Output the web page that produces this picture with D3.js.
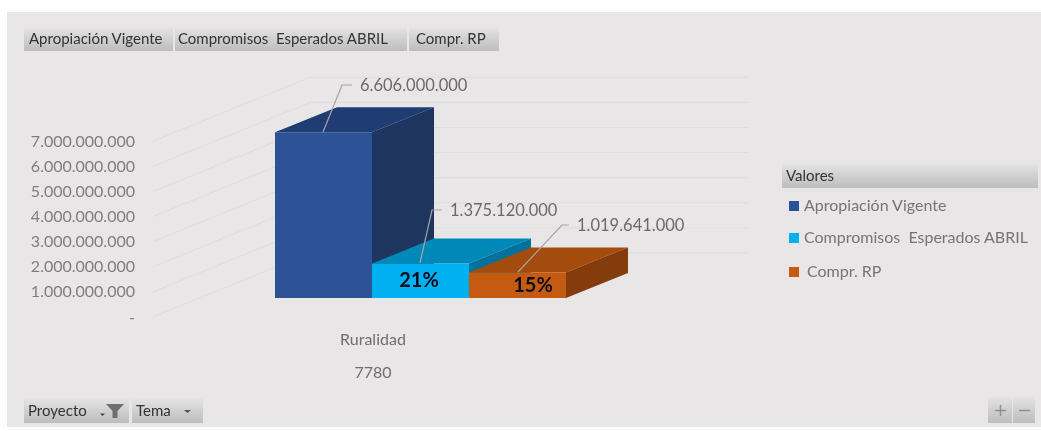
<!DOCTYPE html>
<html><head><meta charset="utf-8">
<script src="https://cdn.jsdelivr.net/npm/d3@7"></script>
<style>
html,body{margin:0;padding:0;background:#fff;overflow:hidden}
svg{display:block;filter:blur(0.35px)}
text{font-family:Lato,"Open Sans",sans-serif}
</style></head><body><div id="c"></div>
<script>
const seriesNames=["Apropiación Vigente","Compromisos  Esperados ABRIL","Compr. RP"];
const seriesValues=[6606000000,1375120000,1019641000];
const valueLabels=["6.606.000.000","1.375.120.000","1.019.641.000"];
const percentLabels=["","21%","15%"];
const tickValues=[0,1e9,2e9,3e9,4e9,5e9,6e9,7e9];
const tickLabels=["-","1.000.000.000","2.000.000.000","3.000.000.000","4.000.000.000","5.000.000.000","6.000.000.000","7.000.000.000"];
const categoryLabels=["Ruralidad","7780"];
const frontColors=["#2d5296","#00b0f0","#c55a11"];
const topColors=["#1f3d73","#0088b8","#a34c0e"];
const sideColors=["#1d355f","#00729c","#843c0c"];
const legendColors=["#2a5298","#00b0f0","#c55a11"];

const W=1041,H=431;
const svg=d3.select("#c").append("svg").attr("width",W).attr("height",H);
const defs=svg.append("defs");
const g=defs.append("linearGradient").attr("id","btn").attr("x1",0).attr("x2",0).attr("y1",0).attr("y2",1);
g.append("stop").attr("offset",0).attr("stop-color","#e6e4e4");
g.append("stop").attr("offset",1).attr("stop-color","#bdbdbd");

svg.append("rect").attr("x",7).attr("y",12).attr("width",W-7).attr("height",415).attr("fill","#e9e6e7");

// scales
const h=d3.scaleLinear().domain([0,7e9]).range([0,175.7]);
const x=d3.scaleBand().domain(seriesNames).range([275,566]).padding(0);
const baseY=298, dx=62, dy=25;
const axisX=153, axisZero=317, wallDX=157, wallDY=64, wallEnd=748;

// gridlines
const grid=svg.append("g").attr("fill","none").attr("stroke","#dedcdc").attr("stroke-width",1);
tickValues.forEach(t=>{
  const y=axisZero-h(t);
  grid.append("path").attr("d",d3.line()([[axisX,y],[axisX+wallDX,y-wallDY],[wallEnd,y-wallDY]]));
});
// tick labels
svg.append("g").selectAll("text").data(tickValues).join("text")
  .attr("x",135).attr("y",t=>axisZero-h(t)+5.5).attr("text-anchor","end")
  .attr("font-size",16).attr("fill","#7f7d7d").text((t,i)=>tickLabels[i]);

// bars
const bars=svg.append("g");
const order=[0,1,2];
order.forEach(i=>{
  const n=seriesNames[i],x0=x(n),x1=x0+x.bandwidth(),top=baseY-h(seriesValues[i]);
  const poly=(pts,fill)=>bars.append("polygon").attr("points",pts.join(" ")).attr("fill",fill);
  poly([[x0,top],[x0+dx,top-dy],[x1+dx,top-dy],[x1,top]],topColors[i]);
  poly([[x1,top],[x1+dx,top-dy],[x1+dx,baseY-dy],[x1,baseY]],sideColors[i]);
  poly([[x0,top],[x1,top],[x1,baseY],[x0,baseY]],frontColors[i]);
});

// leader lines
const leaders=svg.append("g").attr("fill","none").attr("stroke","#a6a4a4").attr("stroke-width",1.2);
const lead=[[[323,132],[342,85],[352,85]],[[420,263],[432,210],[442,210]],[[518,272],[562,225],[569,225]]];
lead.forEach(p=>leaders.append("path").attr("d",d3.line()(p)));
const labelPos=[[360,91],[450,216],[577,231]];
svg.append("g").selectAll("text").data(valueLabels).join("text")
  .attr("x",(d,i)=>labelPos[i][0]).attr("y",(d,i)=>labelPos[i][1])
  .attr("font-size",16.5).attr("fill","#6b6969").text(d=>d);
// percent labels
const pctPos=[[0,0],[419,287],[533,292]];
svg.append("g").selectAll("text").data(percentLabels).join("text")
  .attr("x",(d,i)=>pctPos[i][0]).attr("y",(d,i)=>pctPos[i][1]).attr("text-anchor","middle")
  .attr("font-size",20).attr("font-weight",700).attr("fill","#0d0d1a").text(d=>d);

// category labels
svg.append("g").selectAll("text").data(categoryLabels).join("text")
  .attr("x",373).attr("y",(d,i)=>i?378:345).attr("text-anchor","middle")
  .attr("font-size",16).attr("fill","#6f6d6d").text(d=>d);

// field buttons
function button(x0,y0,w,hh,label,tx){
  svg.append("rect").attr("x",x0).attr("y",y0).attr("width",w).attr("height",hh).attr("fill","url(#btn)");
  if(label)svg.append("text").attr("x",tx).attr("y",y0+hh/2+5).attr("font-size",15).attr("fill","#333").style("white-space","pre").text(label);
}
button(24,27,149,24,seriesNames[0],29);
button(175,27,232,24,seriesNames[1],178);
button(409,27,90,24,seriesNames[2],416);
button(24,398,105,25,"Proyecto",28);
button(132,398,71,25,"Tema",136);
svg.append("path").attr("d","M106 404H124L117.5 411V418H112.5V411Z").attr("fill","#6f6f6f");
svg.append("path").attr("d","M100 413.5h5l-2.5 2.5Z").attr("fill","#444");
svg.append("path").attr("d","M184 410h7l-3.500 3Z").attr("fill","#555");

// zoom buttons
button(988,396,24,27);button(1013,396,22,27);
svg.append("path").attr("d","M995 410.500H1006M1000.500 405V416M1019 410.500H1030").attr("stroke","#8f8f8f").attr("stroke-width",1.6).attr("fill","none");

// legend
button(782,163,256,25,"Valores",786);
const ly=[206,238,272],lx=[804,804,807];
const lg=svg.append("g");
lg.selectAll("rect").data(seriesNames).join("rect")
 .attr("x",789).attr("y",(d,i)=>ly[i]-5).attr("width",10).attr("height",10).attr("fill",(d,i)=>legendColors[i]);
lg.selectAll("text").data(seriesNames).join("text")
 .attr("x",(d,i)=>lx[i]).attr("y",(d,i)=>ly[i]+5).attr("font-size",16).attr("fill","#767476").style("white-space","pre").text(d=>d);
</script></body></html>
